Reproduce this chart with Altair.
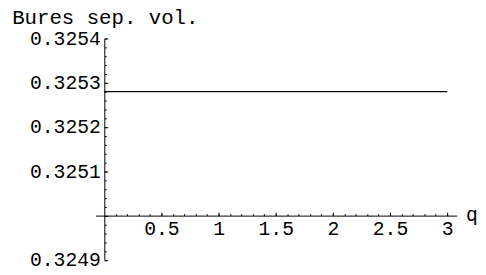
import altair as alt
import pandas as pd

# data
q_vals = [0.0, 3.0]
vol_vals = [0.32528, 0.32528]

# axis ticks
x_major = [0.5, 1.0, 1.5, 2.0, 2.5, 3.0]
x_minor = [round(0.1 * i, 1) for i in range(1, 31)]
y_major = [0.3249, 0.3250, 0.3251, 0.3252, 0.3253, 0.3254]
y_minor = [round(0.3249 + 0.00002 * i, 5) for i in range(26)]

x_domain = [-0.078, 3.083]
y_domain = [0.3249, 0.3254]
y_cross = 0.325

W, H = 366.6, 224.7
FONT = "Liberation Mono"
FS = 20

x0 = W * (0 - x_domain[0]) / (x_domain[1] - x_domain[0])
ycross_px = H * (y_domain[1] - y_cross) / (y_domain[1] - y_domain[0])

df = pd.DataFrame({"q": q_vals, "vol": vol_vals})

xs = alt.Scale(domain=x_domain, nice=False, zero=False)
ys = alt.Scale(domain=y_domain, nice=False, zero=False)

common = dict(labelFont=FONT, labelFontSize=FS, labelColor="black",
              tickColor="black", domainColor="black", tickWidth=1,
              domainWidth=1, grid=False, labelFlush=False,
              labelOverlap=False, labelBound=False)

# layer with major ticks (inward) and axis lines
major = alt.Chart(df).mark_line(color="black", strokeWidth=1).encode(
    x=alt.X("q:Q", scale=xs, axis=alt.Axis(
        orient="top", values=x_major, tickSize=3.5, labels=False,
        domain=True, title=None, offset=-ycross_px, **common)),
    y=alt.Y("vol:Q", scale=ys, axis=alt.Axis(
        orient="right", values=y_major, tickSize=3.5, labels=False,
        domain=True, title=None, offset=x0 - W, **common)),
)

# layer with minor ticks and labels
minor = alt.Chart(df).mark_line(color="black", strokeWidth=1).encode(
    x=alt.X("q:Q", scale=xs, axis=alt.Axis(
        orient="bottom", values=x_minor, tickSize=2, domain=False,
        labelBaseline="top", labelPadding=3,
        labelExpr="abs(datum.value*2 - round(datum.value*2)) < 0.01 ? format(datum.value, '~g') : ''",
        offset=ycross_px - 2 - H,
        title="q", titleFont=FONT, titleFontSize=FS, titleFontWeight="normal",
        titleColor="black", titleAlign="left", titleBaseline="alphabetic",
        titleX=375.6, titleY=6.7, **common)),
    y=alt.Y("vol:Q", scale=ys, axis=alt.Axis(
        orient="left", values=y_minor, tickSize=2, domain=False,
        labelPadding=4,
        labelExpr="abs(datum.value*10000 - round(datum.value*10000)) < 0.01 && abs(datum.value - 0.325) > 0.000001 ? format(datum.value, '.4f') : ''",
        offset=-(x0 + 2),
        title="Bures sep. vol.", titleFont=FONT, titleFontSize=21,
        titleFontWeight="normal", titleColor="black", titleAngle=0,
        titleAlign="left", titleBaseline="alphabetic",
        titleX=-96, titleY=-15.3, **common)),
)

chart = alt.layer(major, minor).resolve_axis(
    x="independent", y="independent"
).properties(
    width=W, height=H,
    autosize=alt.AutoSizeParams(type="none"),
    padding={"left": 88.7, "top": 29, "right": 21.7, "bottom": 10},
    background="white",
).configure_view(stroke=None)

chart.save("out.html", embed_options={"renderer": "svg", "actions": False})
